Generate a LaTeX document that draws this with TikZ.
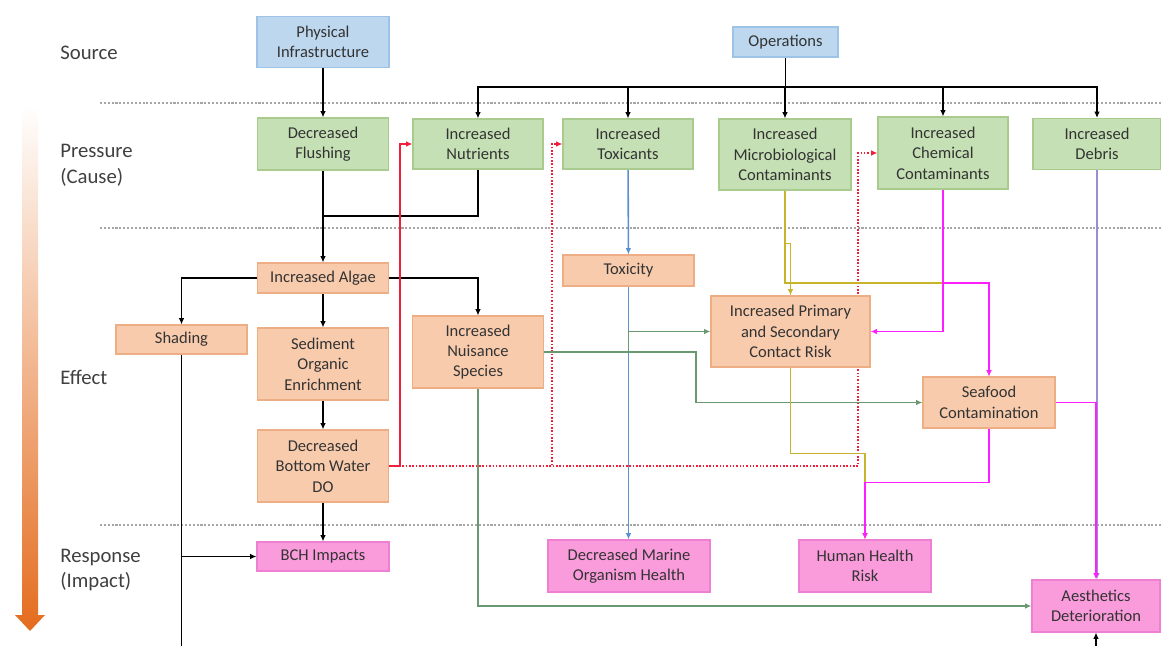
\documentclass[tikz,border=0pt]{standalone}
\usepackage{fontspec}
\setmainfont{Carlito}
\usepackage{tikz}
\usetikzlibrary{calc}
\usetikzlibrary{backgrounds}
\usetikzlibrary{arrows.meta}

\definecolor{srcfill}{HTML}{BDD7EE}
\definecolor{srcdraw}{HTML}{9DC3E6}
\definecolor{prsfill}{HTML}{C5E0B4}
\definecolor{prsdraw}{HTML}{A9CC8E}
\definecolor{efffill}{HTML}{F8CBAD}
\definecolor{effdraw}{HTML}{EDAE86}
\definecolor{rspfill}{HTML}{FA9BDC}
\definecolor{rspdraw}{HTML}{EE7FD2}
\definecolor{lnred}{HTML}{F0203C}
\definecolor{lnblue}{HTML}{5B8FD0}
\definecolor{lngreen}{HTML}{6A9870}
\definecolor{lnyel}{HTML}{C8B42A}
\definecolor{lnmag}{HTML}{FF1EFF}
\definecolor{lnpur}{HTML}{9C8CD4}
\definecolor{arrorange}{HTML}{E46C1E}

\tikzset{box/.style={draw, line width=0.6pt, align=center, inner sep=1pt, text=black!80, font=\fontsize{9.4}{11.6}\selectfont}}
\tikzset{sz/.style 2 args={minimum width=#1*0.02cm, minimum height=#2*0.02cm}}
\tikzset{src/.style={box, fill=srcfill, draw=srcdraw}}
\tikzset{prs/.style={box, fill=prsfill, draw=prsdraw}}
\tikzset{eff/.style={box, fill=efffill, draw=effdraw}}
\tikzset{rsp/.style={box, fill=rspfill, draw=rspdraw}}
\tikzset{lbl/.style={anchor=west, align=left, inner sep=0pt, text=black!75, font=\fontsize{11.8}{14.7}\selectfont}}
\tikzset{link/.style={line width=0.9pt, -{Latex[length=3.6pt,width=3.2pt]}}}
\tikzset{sep/.style={gray!70, line width=0.9pt, dash pattern=on 1.2pt off 1pt}}

\begin{document}
\begin{tikzpicture}[x=0.02cm, y=-0.02cm]
\useasboundingbox (0,0) rectangle (1161,646);

\node[lbl] (lsrc) at (60, 53) {Source};
\node[lbl] (lprs) at (60, 165) {Pressure\\(Cause)};
\node[lbl] (leff) at (60, 377) {Effect};
\node[lbl] (lrsp) at (60, 570) {Response\\(Impact)};

\shade[top color=white, bottom color=arrorange] (22,105) -- (38,105) -- (38,615) -- (45,615) -- (30,631) -- (15,615) -- (22,615) -- cycle;

% source
\node[src, sz={132}{51}] (PI) at (323, 42) {Physical\\Infrastructure};
\node[src, sz={105}{30}] (Ops) at (785.5, 42) {Operations};

% pressure
\node[prs, sz={131}{52}] (Flush) at (323, 144) {Decreased\\Flushing};
\node[prs, sz={130}{50}] (Nutr) at (478, 144) {Increased\\Nutrients};
\node[prs, sz={130}{50}] (Toxi) at (628, 144) {Increased\\Toxicants};
\node[prs, sz={132}{71}] (Micro) at (785, 154.5) {Increased\\Microbiological\\Contaminants};
\node[prs, sz={130}{72}] (Chem) at (943, 153) {Increased\\Chemical\\Contaminants};
\node[prs, sz={128}{51}] (Debris) at (1097, 144) {Increased\\Debris};

% effect
\node[eff, sz={131}{30}] (Algae) at (323, 278) {Increased Algae};
\node[eff, sz={131}{29}] (Shade) at (181.5, 339.5) {Shading};
\node[eff, sz={131}{72}] (Sed) at (323, 364) {Sediment\\Organic\\Enrichment};
\node[eff, sz={131}{72}] (DO) at (323, 466) {Decreased\\Bottom Water\\DO};
\node[eff, sz={131}{72}] (Nuis) at (478, 352) {Increased\\Nuisance\\Species};
\node[eff, sz={131}{31}] (Tox) at (628.5, 270.5) {Toxicity};
\node[eff, sz={159}{71}] (Cont) at (790.5, 331.5) {Increased Primary\\and Secondary\\Contact Risk};
\node[eff, sz={132}{51}] (Sea) at (989, 402.5) {Seafood\\Contamination};

% response
\node[rsp, sz={132}{29}] (BCH) at (323, 556.5) {BCH Impacts};
\node[rsp, sz={162}{52}] (DMOH) at (629, 566) {Decreased Marine\\Organism Health};
\node[rsp, sz={132}{52}] (HHR) at (865, 566) {Human Health\\Risk};
\node[rsp, sz={128}{52}] (Aesth) at (1096, 606) {Aesthetics\\Deterioration};

\coordinate (bus) at (0, 87);
\coordinate (jn) at (323, 216);
\coordinate (ys) at (989, 283);
\coordinate (bot) at (0, 646);

\begin{scope}[on background layer]
\foreach \y in {103, 228, 525}
  \draw[sep] (100, \y) -- (1161, \y);

% black
\draw[link] (PI) -- (Flush);
\foreach \n in {Nutr, Toxi, Micro, Chem, Debris}
  \draw[link] (Ops.south) -- (Ops.south |- bus) -| (\n.north);
\draw[link] (Flush) -- (Algae);
\draw[line width=0.9pt] (Nutr.south) |- (jn);
\draw[link] (Algae.west) -| (Shade.north);
\draw[link] (Algae.east) -| (Nuis.north);
\draw[link] (Algae) -- (Sed);
\draw[link] (Sed) -- (DO);
\draw[link] (DO) -- (BCH);
\draw[line width=0.9pt] (Shade.south) -- (Shade.south |- bot);
\draw[link] (Shade.south |- BCH.west) -- (BCH.west);
\draw[link] (Aesth.south |- bot) -- (Aesth.south);

% red
\draw[link, lnred] (DO.east) -- ++(11,0) |- (Nutr.west);
\draw[link, lnred, densely dotted] (DO.east) -- (552, 466) |- (Toxi.west);
\draw[link, lnred, densely dotted] (DO.east) -- (858, 466) |- (Chem.west);

% blue
\draw[link, lnblue] (Toxi) -- (Tox);
\draw[link, lnblue] (Tox.south) -- (Tox.south |- DMOH.north);

% green
\draw[link, lngreen] (Nuis.east) -- ++(152,0) |- (Sea.west);
\draw[link, lngreen] (Tox.south |- Nuis.east) |- (Cont.west);
\draw[link, lngreen] (Nuis.south) |- (Aesth.west);

% yellow and purple
\draw[link, lnyel] (Micro.south) -- ++(0,53) -| (Cont.north);
\draw[link, lnyel] (Micro.south) |- (ys) -- (Sea.north);
\draw[link, lnyel] (Cont.south) -- ++(0,86) -| (HHR.north);
\draw[link, lnpur] (Debris.south) -- (Debris.south |- Aesth.north);

% magenta
\draw[link, lnmag, line width=1.1pt] (Chem.south) |- (Cont.east);
\draw[link, lnmag, line width=1.1pt] (Chem.south) |- (ys) -- (Sea.north);
\draw[link, lnmag, line width=1.1pt] (Sea.south) -- ++(0,54) -| (HHR.north);
\draw[link, lnmag, line width=1.1pt] (Sea.east) -| (Aesth.north);
\end{scope}

\end{tikzpicture}
\end{document}
